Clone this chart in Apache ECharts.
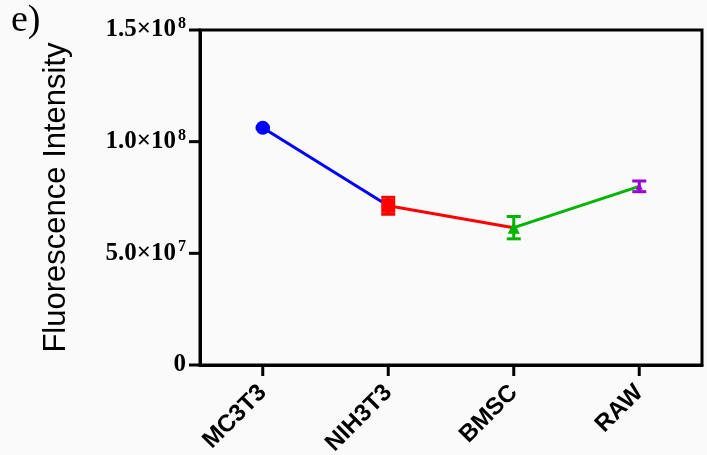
<!DOCTYPE html>
<html>
<head>
<meta charset="utf-8">
<script src="https://cdn.jsdelivr.net/npm/echarts@6/dist/echarts.min.js"></script>
<style>
html,body{margin:0;padding:0;background:#fafafa;}
#c{width:707px;height:455px;}
</style>
</head>
<body>
<div id="c"></div>
<script>
var categories = ['MC3T3', 'NIH3T3', 'BMSC', 'RAW'];
var means = [1.062e8, 0.713e8, 0.615e8, 0.800e8];
var errors = [0.004e8, 0.038e8, 0.05e8, 0.024e8];
var colors = ['#0000ff', '#ff0000', '#00b400', '#9b00d4'];
var symbols = ['circle', 'rect', 'triangle', 'triangle'];
var yTicks = [0, 5e7, 1e8, 1.5e8];

var chart = echarts.init(document.getElementById('c'));

function yLabel(v) {
  if (v === 0) return '{a|0}';
  var e = Math.floor(Math.log10(v) + 1e-9);
  var m = (v / Math.pow(10, e)).toFixed(1);
  return '{a|' + m + '×10}{s|' + e + '}';
}

var series = [];
for (var i = 0; i < means.length - 1; i++) {
  (function (i) {
    series.push({
      type: 'line',
      data: means.map(function (v, j) { return (j === i || j === i + 1) ? v : '-'; }),
      showSymbol: false,
      symbol: 'none',
      lineStyle: { color: colors[i], width: 3 },
      z: 2,
      silent: true
    });
  })(i);
}
series.push({
  type: 'custom',
  z: 3,
  data: means.map(function (v, j) { return [j, v, errors[j]]; }),
  renderItem: function (params, api) {
    var j = api.value(0), v = api.value(1), e = api.value(2);
    var top = api.coord([j, v + e]);
    var bot = api.coord([j, v - e]);
    var col = colors[j];
    var cw = 7;
    var st = { stroke: col, lineWidth: 3 };
    return {
      type: 'group',
      children: [
        { type: 'line', shape: { x1: top[0], y1: top[1], x2: bot[0], y2: bot[1] }, style: st },
        { type: 'line', shape: { x1: top[0] - cw, y1: top[1], x2: top[0] + cw, y2: top[1] }, style: st },
        { type: 'line', shape: { x1: bot[0] - cw, y1: bot[1], x2: bot[0] + cw, y2: bot[1] }, style: st }
      ]
    };
  }
});
// axis ticks drawn from the axis scales (category centres and y tick values)
series.push({
  type: 'custom',
  z: 5,
  clip: false,
  silent: true,
  data: categories.map(function (c, j) { return [j, 0]; }).concat(yTicks.map(function (t) { return [0, t]; })),
  encode: { x: -1, y: -1 },
  renderItem: function (params, api) {
    var st = { stroke: '#000', lineWidth: 3 };
    if (params.dataIndex < categories.length) {
      var p = api.coord([params.dataIndex, yTicks[0]]);
      return { type: 'line', shape: { x1: p[0], y1: p[1], x2: p[0], y2: p[1] + 11 }, style: st };
    } else {
      var q = api.coord([0, yTicks[params.dataIndex - categories.length]]);
      var x0 = params.coordSys.x;
      return { type: 'line', shape: { x1: x0, y1: q[1], x2: x0 - 11, y2: q[1] }, style: st };
    }
  }
});
for (var k = 0; k < means.length; k++) {
  series.push({
    type: 'scatter',
    data: means.map(function (v, j) { return j === k ? v : '-'; }),
    symbol: symbols[k],
    symbolSize: k === 0 ? 14 : (k === 1 ? 14 : (k === 2 ? 12 : 7)),
    itemStyle: { color: colors[k], opacity: 1 },
    z: 4
  });
}

chart.setOption({
  backgroundColor: '#fafafa',
  animation: false,
  title: {
    text: 'e)',
    left: 6, top: -3,
    textStyle: { fontFamily: 'Liberation Serif', fontWeight: 'normal', fontSize: 38, color: '#000' }
  },
  grid: {
    left: 200, right: 5, top: 30, bottom: 90,
    containLabel: false,
    outerBoundsMode: 'none',
    show: true, borderColor: '#000', borderWidth: 3, backgroundColor: 'transparent'
  },
  xAxis: {
    type: 'category',
    data: categories,
    boundaryGap: true,
    axisLine: { show: true, lineStyle: { color: '#000', width: 3 } },
    axisTick: { show: false },
    axisLabel: {
      rotate: 45, margin: 24,
      fontFamily: 'Liberation Sans', fontWeight: 'bold', fontSize: 24, color: '#000'
    },
    splitLine: { show: false }
  },
  yAxis: {
    type: 'value',
    min: 0, max: 1.5e8, interval: 5e7,
    name: 'Fluorescence Intensity',
    nameLocation: 'middle',
    nameGap: 128,
    nameTextStyle: { fontFamily: 'Liberation Sans', fontSize: 31, color: '#000' },
    axisLine: { show: true, lineStyle: { color: '#000', width: 3 } },
    axisTick: { show: false },
    splitLine: { show: false },
    axisLabel: {
      margin: 14,
      formatter: yLabel,
      rich: {
        a: { fontFamily: 'Liberation Serif', fontWeight: 'bold', fontSize: 25, color: '#000' },
        s: { fontFamily: 'Liberation Serif', fontWeight: 'bold', fontSize: 16, color: '#000', padding: [0, 0, 12, 2] }
      }
    }
  },
  series: series
});
</script>
</body>
</html>
